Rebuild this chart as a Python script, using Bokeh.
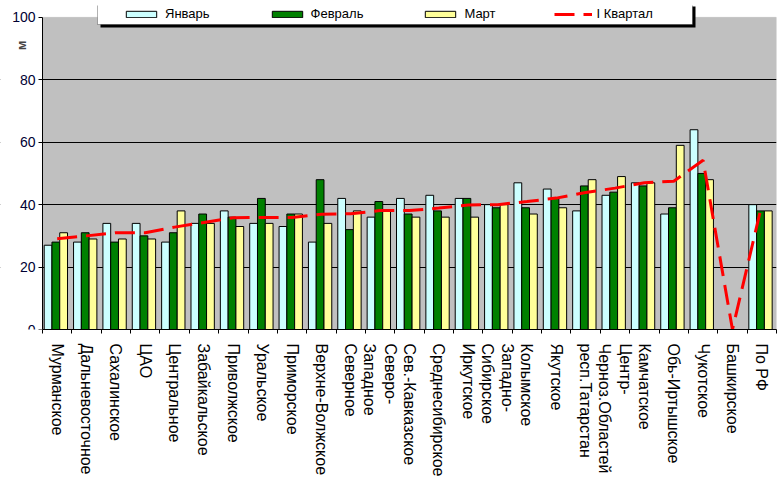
import math
import numpy as np
from bokeh.plotting import figure
from bokeh.models import (ColumnDataSource, Range1d, LinearAxis, FixedTicker, Legend, LegendItem,
                          BoxAnnotation, Label)
from bokeh.transform import dodge
from bokeh.embed import file_html
from bokeh.resources import INLINE

categories = ["Мурманское", "Дальневосточное", "Сахалинское", "ЦАО", "Центральное",
              "Забайкальское", "Приволжское", "Уральское", "Приморское", "Верхне-Волжское",
              "Северное", "Северо-\nЗападное", "Сев.-Кавказское", "Среднесибирское", "Иркутское",
              "Западно-\nСибирское", "Колымское", "Якутское", "респ.Татарстан",
              "Центр-\nЧерноз.Областей", "Камчатское", "Обь-Иртышское", "Чукотское",
              "Башкирское", "По РФ"]
nan = float("nan")
jan = [27, 28, 34, 34, 28, 34, 38, 34, 33, 28, 42, 36, 42, 43, 42, 40, 47, 45, 38, 43, 47, 37, 64, nan, 40]
feb = [28, 31, 28, 30, 31, 37, 36, 42, 37, 48, 32, 41, 37, 38, 42, 39, 39, 42, 46, 44, 46, 39, 50, nan, 38]
mar = [31, 29, 29, 29, 38, 34, 33, 34, 37, 34, 38, 38, 36, 36, 36, 40, 37, 39, 48, 49, 47, 59, 48, nan, 38]
quarter = [29.1, 30.0, 31.0, 31.0, 32.8, 34.3, 35.8, 35.9, 35.9, 36.9, 37.1, 38.1, 38.1, 38.9, 39.9,
           40.0, 41.0, 42.1, 43.9, 45.3, 47.0, 47.5, 54.2, 0.0, 40.0]
y_ticks = [0, 20, 40, 60, 80, 100]
Y_MAX = 100

n = len(categories)
centers = [i + 0.5 for i in range(n)]
src = ColumnDataSource(dict(x=centers, cat=categories, jan=jan, feb=feb, mar=mar, q=quarter))

FONT = "Liberation Sans"
PX_X = 734 / n          # pixels per category
PX_Y = 315 / Y_MAX      # pixels per unit
x_start = -42 / PX_X    # room for the y axis labels inside the frame
y_end = Y_MAX + 12 / PX_Y  # room for the legend above the plot area

p = figure(x_range=Range1d(x_start, n), y_range=Range1d(0, y_end),
           width=777, height=479, output_backend="svg", toolbar_location=None,
           min_border_left=0, min_border_right=1, min_border_top=5, min_border_bottom=147,
           x_axis_location=None, y_axis_location=None,
           background_fill_color="white", border_fill_color="white", outline_line_color=None)
p.xgrid.grid_line_color = None
p.ygrid.grid_line_color = "black"
p.ygrid.ticker = FixedTicker(ticks=y_ticks[1:-1])

# plot area (grey) below the grid
plot_area = BoxAnnotation(left=0, right=n, bottom=0, top=Y_MAX, level="image",
                          fill_color="#C0C0C0", fill_alpha=1, line_color="#808080", line_width=1)
p.add_layout(plot_area)
# white margin left of the plot area (hides grid lines there)
left_margin = BoxAnnotation(right=0, level="underlay", fill_color="white", fill_alpha=1, line_color=None)
p.add_layout(left_margin)

w = 0.265
r_jan = p.vbar(x=dodge("x", -0.31), top="jan", width=w, source=src,
               fill_color="#CCFFFF", line_color="black", line_width=1)
r_feb = p.vbar(x=dodge("x", -0.045), top="feb", width=w, source=src,
               fill_color="#008000", line_color="black", line_width=1)
r_mar = p.vbar(x=dodge("x", 0.22), top="mar", width=w, source=src,
               fill_color="#FFFF99", line_color="black", line_width=1)
r_q = p.line(x="x", y="q", source=src, line_color="#FF0000", line_width=3, line_dash="20 9")

# y axis at x = 0
ya = LinearAxis(ticker=FixedTicker(ticks=y_ticks), fixed_location=0, bounds=(0, Y_MAX),
                axis_line_color="black", major_tick_line_color="black",
                major_tick_out=4, major_tick_in=0, minor_tick_line_color=None,
                major_label_text_font=FONT, major_label_text_font_size="14px",
                major_label_text_color="#000033", major_label_standoff=3)
p.add_layout(ya, "left")

# x tick axis (ticks at category boundaries)
tick_axis = LinearAxis(ticker=FixedTicker(ticks=list(range(n + 1))), bounds=(0, n),
                       major_tick_out=4, major_tick_in=0, minor_tick_line_color=None,
                       axis_line_color="black", major_tick_line_color="black",
                       major_label_text_font_size="1px", major_label_text_alpha=0,
                       major_label_standoff=0)
p.add_layout(tick_axis, "below")
# category labels at centres
cat_axis = LinearAxis(ticker=FixedTicker(ticks=centers),
                      major_label_overrides={c: name for c, name in zip(centers, categories)},
                      axis_line_color=None, major_tick_line_color=None,
                      minor_tick_line_color=None, major_label_orientation="vertical",
                      major_label_text_font=FONT, major_label_text_font_size="16px",
                      major_label_text_color="black", major_label_standoff=4)
p.add_layout(cat_axis, "below")

# legend frame with shadow (screen px from frame bottom-left)
shadow = BoxAnnotation(left=100, right=695, top=323, bottom=302,
                       left_units="screen", right_units="screen", top_units="screen", bottom_units="screen",
                       fill_color="black", fill_alpha=1, line_color=None)
box = BoxAnnotation(left=97, right=692, top=326, bottom=305,
                    left_units="screen", right_units="screen", top_units="screen", bottom_units="screen",
                    fill_color="white", fill_alpha=1, line_color="black", line_width=1)
p.add_layout(shadow)
p.add_layout(box)

legend = Legend(items=[LegendItem(label="Январь", renderers=[r_jan]),
                       LegendItem(label="Февраль", renderers=[r_feb]),
                       LegendItem(label="Март", renderers=[r_mar]),
                       LegendItem(label="I Квартал", renderers=[r_q])],
                orientation="horizontal", location=(122, 306), padding=0, spacing=58,
                glyph_width=38, glyph_height=8, label_standoff=5, label_height=19,
                label_text_font=FONT, label_text_font_size="13px", label_text_color="black",
                background_fill_alpha=0, border_line_color=None, margin=0)
p.add_layout(legend, "center")

m_label = Label(x=-0.72, y=91, x_units="data", y_units="data", text="м", angle=math.pi / 2,
                text_font=FONT, text_font_size="13px", text_font_style="bold",
                text_align="center", text_baseline="middle")
p.add_layout(m_label)

open("out.html", "w").write(file_html(p, INLINE))
